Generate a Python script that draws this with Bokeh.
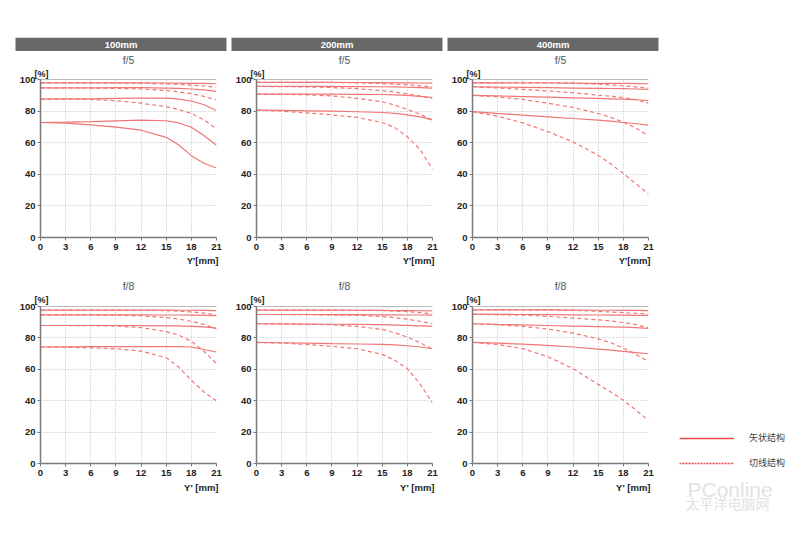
from bokeh.plotting import figure
from bokeh.models import Range1d, FixedTicker, Label, Span, Legend, LegendItem, Spacer, Title
from bokeh.layouts import row, column
from bokeh.core.properties import value
from bokeh.embed import file_html
from bokeh.resources import INLINE

# ---------------- data ----------------
X = [0, 3, 6, 9, 12, 15, 16.5, 18, 19.5, 21]
X_TICKS = [0, 3, 6, 9, 12, 15, 18, 21]
Y_TICKS = [0, 20, 40, 60, 80, 100]
FOCALS = ["100mm", "200mm", "400mm"]
APERTURES = ["f/5", "f/8"]
X_LABELS = ["Y'[mm]", "Y' [mm]"]
LEGEND_LABELS = ["矢状结构", "切线结构"]

# sagittal (solid) curves: 10, 20, 30, 40 lp/mm
sag_100_f5 = [[97.9, 97.9, 97.9, 97.9, 97.9, 97.8, 97.7, 97.6, 97.5, 97.3],
              [94.7, 94.7, 94.7, 94.8, 94.8, 94.6, 94.4, 94.0, 93.4, 92.5],
              [87.6, 87.7, 87.8, 88.0, 88.2, 88.2, 87.6, 86.4, 84.0, 80.4],
              [72.8, 73.0, 73.3, 73.8, 74.3, 73.9, 72.5, 69.8, 64.5, 58.4]]
tan_100_f5 = [[97.9, 97.9, 97.9, 97.8, 97.6, 97.2, 96.9, 96.5, 95.9, 95.0],
              [94.7, 94.7, 94.6, 94.4, 94.0, 93.0, 92.2, 91.0, 89.3, 87.0],
              [87.6, 87.6, 87.4, 86.6, 85.0, 82.8, 81.0, 78.5, 74.5, 68.8],
              [72.8, 72.4, 71.3, 69.8, 67.9, 63.4, 58.5, 51.8, 47.0, 44.0]]
sag_200_f5 = [[98.2, 98.2, 98.2, 98.2, 98.1, 98.0, 97.9, 97.9, 97.8, 97.7],
              [95.6, 95.6, 95.6, 95.6, 95.5, 95.4, 95.3, 95.1, 94.9, 94.6],
              [90.8, 90.8, 90.7, 90.7, 90.6, 90.5, 90.3, 89.9, 89.3, 88.6],
              [80.6, 80.4, 80.2, 80.0, 79.6, 79.1, 78.5, 77.6, 76.3, 74.5]]
tan_200_f5 = [[98.2, 98.2, 98.2, 98.1, 97.9, 97.4, 97.0, 96.6, 96.0, 95.4],
              [95.6, 95.5, 95.3, 94.9, 94.2, 93.0, 92.0, 90.8, 89.5, 88.0],
              [90.8, 90.7, 90.3, 89.6, 88.1, 85.9, 83.8, 81.0, 78.0, 74.3],
              [80.6, 80.0, 78.9, 77.6, 76.0, 72.8, 69.6, 63.7, 55.9, 43.2]]
sag_400_f5 = [[97.9, 97.9, 97.8, 97.8, 97.7, 97.6, 97.5, 97.5, 97.4, 97.3],
              [95.4, 95.2, 95.0, 94.8, 94.6, 94.4, 94.3, 94.2, 94.0, 93.7],
              [89.9, 89.6, 89.2, 88.8, 88.4, 88.0, 87.8, 87.6, 87.2, 86.7],
              [79.7, 78.5, 77.4, 76.4, 75.3, 74.3, 73.6, 72.8, 72.0, 71.1]]
tan_400_f5 = [[97.9, 97.9, 98.0, 98.0, 97.7, 97.0, 96.6, 96.0, 95.3, 94.5],
              [95.4, 94.6, 93.8, 92.8, 91.6, 90.1, 89.4, 88.6, 87.2, 85.0],
              [89.9, 89.0, 87.4, 85.0, 82.3, 78.5, 76.0, 73.0, 69.3, 64.3],
              [79.7, 76.8, 72.5, 67.0, 60.5, 52.0, 46.5, 40.5, 34.0, 27.5]]
sag_100_f8 = [[97.7, 97.7, 97.7, 97.7, 97.7, 97.7, 97.6, 97.6, 97.5, 97.4],
              [94.7, 94.7, 94.7, 94.7, 94.7, 94.6, 94.6, 94.5, 94.4, 94.2],
              [87.9, 87.9, 87.9, 87.9, 87.8, 87.7, 87.6, 87.4, 87.0, 86.2],
              [74.2, 74.3, 74.4, 74.4, 74.4, 74.4, 74.5, 74.2, 72.6, 71.0]]
tan_100_f8 = [[97.7, 97.7, 97.7, 97.7, 97.6, 97.4, 97.0, 96.6, 95.8, 94.7],
              [94.7, 94.7, 94.6, 94.4, 94.1, 92.9, 92.0, 90.6, 88.6, 85.8],
              [87.9, 87.9, 87.8, 87.5, 86.6, 84.0, 81.8, 77.8, 71.5, 63.6],
              [74.2, 74.0, 73.7, 73.1, 71.6, 67.4, 61.4, 53.0, 45.6, 39.8]]
sag_200_f8 = [[97.7, 97.7, 97.7, 97.7, 97.6, 97.5, 97.4, 97.4, 97.3, 97.2],
              [94.9, 94.9, 94.9, 94.8, 94.8, 94.7, 94.7, 94.6, 94.6, 94.5],
              [89.0, 88.9, 88.8, 88.7, 88.6, 88.4, 88.2, 88.0, 87.7, 87.3],
              [77.1, 76.9, 76.7, 76.3, 76.1, 75.9, 75.6, 75.0, 74.2, 73.1]]
tan_200_f8 = [[97.7, 97.7, 97.7, 97.7, 97.6, 97.4, 97.1, 96.7, 96.1, 95.3],
              [94.9, 94.9, 94.8, 94.6, 94.4, 93.6, 92.9, 91.9, 90.6, 89.0],
              [89.0, 88.9, 88.7, 88.4, 87.3, 85.4, 83.3, 80.5, 77.0, 72.7],
              [77.1, 76.7, 75.8, 74.6, 73.1, 69.5, 65.7, 60.4, 50.8, 38.6]]
sag_400_f8 = [[97.9, 97.9, 97.8, 97.8, 97.7, 97.6, 97.6, 97.5, 97.5, 97.4],
              [95.1, 95.0, 94.9, 94.8, 94.7, 94.6, 94.5, 94.5, 94.4, 94.3],
              [89.0, 88.6, 88.3, 87.9, 87.5, 87.2, 87.0, 86.8, 86.5, 86.0],
              [77.1, 76.7, 76.0, 75.2, 74.2, 72.9, 72.2, 71.4, 70.6, 69.9]]
tan_400_f8 = [[97.9, 97.9, 97.9, 97.9, 97.6, 96.9, 96.5, 96.1, 95.7, 95.3],
              [95.1, 94.8, 94.5, 93.7, 92.6, 91.5, 90.8, 89.8, 88.4, 86.4],
              [89.0, 88.4, 87.3, 85.6, 83.1, 79.4, 76.9, 73.5, 69.5, 65.0],
              [77.1, 75.8, 73.1, 68.0, 60.4, 50.4, 45.5, 40.3, 34.0, 27.5]]

SAG = [[sag_100_f5, sag_200_f5, sag_400_f5], [sag_100_f8, sag_200_f8, sag_400_f8]]
TAN = [[tan_100_f5, tan_200_f5, tan_400_f5], [tan_100_f8, tan_200_f8, tan_400_f8]]

# ---------------- style ----------------
LINE_COLOR = "#f07676"
LEG_COLOR = "#e8484c"
AXIS_COLOR = "#7a7a7a"
GRID_COLOR = "#bdbdbd"
FONT = "Liberation Sans"

LEFT_PAD = 8
COL_W = 216
FRAME_W = 176
HEADER_H = 51
ROW_GEOM = [  # (top border, frame height, bottom border, [%] standoff, x-label standoff)
    (28, 158, 33, 2, 1),
    (36, 157, 35, 3, 3),
]


def make_chart(sag, tan, title, xlabel, geom, solid_tan=()):
    top, fh, bottom, pct_so, xl_so = geom
    p = figure(frame_width=FRAME_W, frame_height=fh,
               min_border_left=32, min_border_right=8,
               min_border_top=top, min_border_bottom=bottom,
               x_range=Range1d(0, 21), y_range=Range1d(0, 100),
               toolbar_location=None, output_backend="svg",
               outline_line_color=None)
    p.xaxis.ticker = FixedTicker(ticks=X_TICKS)
    p.yaxis.ticker = FixedTicker(ticks=Y_TICKS)
    for ax in (p.xaxis, p.yaxis):
        ax.axis_line_color = AXIS_COLOR
        ax.axis_line_width = 1.5
        ax.major_tick_line_color = AXIS_COLOR
        ax.major_tick_out = 3
        ax.major_tick_in = 0
        ax.minor_tick_line_color = None
        ax.major_label_text_font = FONT
        ax.major_label_text_font_style = "bold"
        ax.major_label_text_font_size = "9.5px"
        ax.major_label_text_color = "#222222"
    p.xaxis.major_label_standoff = 3
    p.yaxis.major_label_standoff = 2
    p.xgrid.ticker = FixedTicker(ticks=X_TICKS)
    p.ygrid.ticker = FixedTicker(ticks=Y_TICKS)
    p.grid.grid_line_color = GRID_COLOR
    p.grid.grid_line_dash = "1 2"
    p.grid.grid_line_width = 1

    p.add_layout(Span(location=100, dimension="width", line_color=AXIS_COLOR, line_width=1.2))

    for i, ys in enumerate(tan):
        dash = "solid" if i in solid_tan else "4 3"
        p.line(X, ys, line_color=LINE_COLOR, line_width=1.2, line_dash=dash)
    for ys in sag:
        p.line(X, ys, line_color=LINE_COLOR, line_width=1.2)

    p.title.text = title
    p.title.align = "center"
    p.title.text_font = FONT
    p.title.text_font_size = "10.5px"
    p.title.text_font_style = "normal"
    p.title.text_color = "#555555"
    p.title.standoff = 0
    p.add_layout(Title(text="[%]", align="left", offset=-6, standoff=pct_so, text_font=FONT,
                       text_font_style="bold", text_font_size="9px",
                       text_color="#222222"), "above")
    p.add_layout(Title(text=xlabel, align="right", offset=-2, standoff=xl_so, text_font=FONT,
                       text_font_style="bold", text_font_size="9.5px",
                       text_color="#222222"), "below")
    return p


# header bars (one strip across the top)
hdr = figure(frame_width=800, frame_height=14, min_border_left=0, min_border_right=0,
             min_border_top=37, min_border_bottom=0,
             x_range=Range1d(0, 800), y_range=Range1d(0, 1),
             x_axis_location=None, y_axis_location=None,
             toolbar_location=None, output_backend="svg", outline_line_color=None)
hdr.grid.visible = False
bar_left = [LEFT_PAD + c * COL_W + 7 for c in range(len(FOCALS))]
bar_right = [b + 211 for b in bar_left]
bar_mid = [(a + b) / 2 for a, b in zip(bar_left, bar_right)]
hdr.quad(left=bar_left, right=bar_right, bottom=0, top=1, fill_color="#686868", line_color=None)
hdr.text(x=bar_mid, y=[0.5] * len(FOCALS), text=FOCALS, text_align="center",
         text_baseline="middle", text_font=value(FONT), text_font_style="bold",
         text_font_size="9.5px", text_color="white")

cols = []
for c, focal in enumerate(FOCALS):
    items = []
    for r, ap in enumerate(APERTURES):
        solid_tan = (3,) if (r == 0 and c == 0) else ()
        items.append(make_chart(SAG[r][c], TAN[r][c], ap, X_LABELS[r], ROW_GEOM[r], solid_tan))
    cols.append(column(*items, spacing=0))

# legend panel
LG_TOP = 431 - HEADER_H
lg = figure(frame_width=121, frame_height=102, min_border_left=23, min_border_right=0,
            min_border_top=LG_TOP, min_border_bottom=0,
            x_range=Range1d(0, 121), y_range=Range1d(102, 0),
            x_axis_location=None, y_axis_location=None,
            toolbar_location=None, output_backend="svg", outline_line_color=None)
lg.grid.visible = False
nan = float("nan")
r_sag = lg.line(x=[nan], y=[nan], line_color=LEG_COLOR, line_width=1.3)
r_tan = lg.line(x=[nan], y=[nan], line_color=LEG_COLOR, line_width=1.3, line_dash="2 1")
legend = Legend(items=[LegendItem(label=LEGEND_LABELS[0], renderers=[r_sag]),
                       LegendItem(label=LEGEND_LABELS[1], renderers=[r_tan])],
                location="top_left", margin=0, padding=0, spacing=12,
                glyph_width=55, glyph_height=12, label_height=12, label_standoff=15,
                label_text_font="Noto Sans CJK SC", label_text_font_size="9px",
                label_text_color="#444444", border_line_color=None,
                background_fill_alpha=0)
lg.add_layout(legend)
lg.add_layout(Label(x=8, y=58, text="PConline", text_align="left", text_baseline="middle",
                    text_font="Liberation Sans", text_font_size="21px",
                    text_color="#e2e2e2"))
lg.add_layout(Label(x=6, y=71, text="太平洋电脑网", text_align="left", text_baseline="middle",
                    text_font="Noto Sans CJK SC", text_font_size="14px",
                    text_color="#e2e2e2"))

body = row(Spacer(width=LEFT_PAD, height=10), *cols, lg, spacing=0)
layout = column(hdr, body, spacing=0)

open("out.html", "w").write(file_html(layout, INLINE))
